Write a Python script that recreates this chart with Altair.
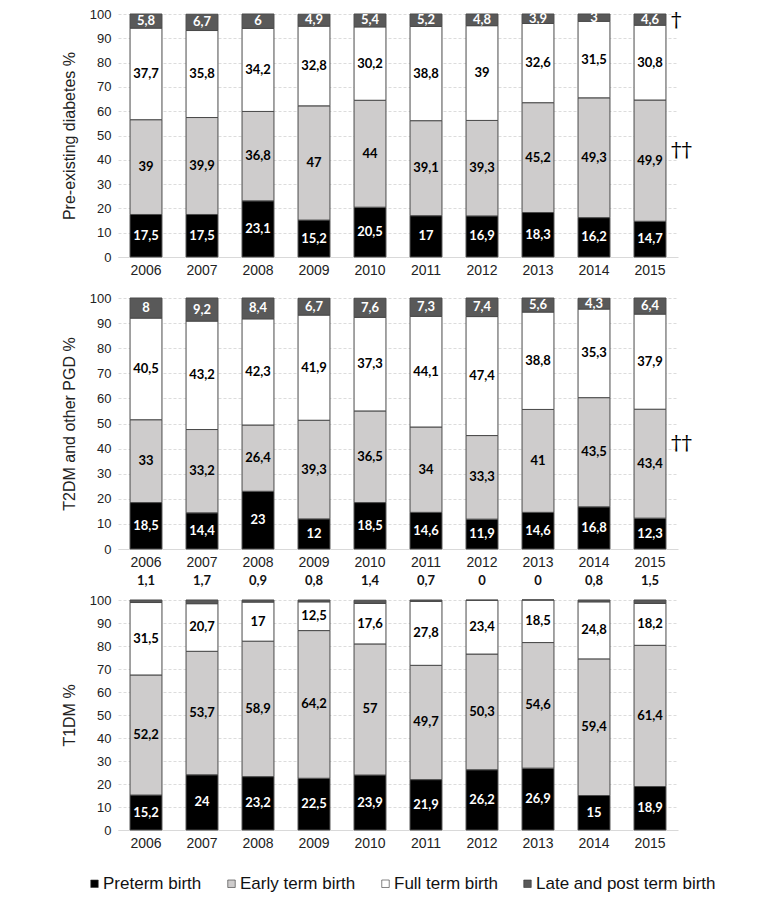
import altair as alt
import pandas as pd

years = [str(y) for y in range(2006, 2016)]
categories = ["Preterm birth", "Early term birth", "Full term birth", "Late and post term birth"]
colors = ["#000000", "#cecccc", "#ffffff", "#595959"]

# Panel 1: Pre-existing diabetes
pre_preterm = [17.5, 17.5, 23.1, 15.2, 20.5, 17, 16.9, 18.3, 16.2, 14.7]
pre_early = [39, 39.9, 36.8, 47, 44, 39.1, 39.3, 45.2, 49.3, 49.9]
pre_full = [37.7, 35.8, 34.2, 32.8, 30.2, 38.8, 39, 32.6, 31.5, 30.8]
pre_late = [5.8, 6.7, 6, 4.9, 5.4, 5.2, 4.8, 3.9, 3, 4.6]

# Panel 2: T2DM and other PGD
t2_preterm = [18.5, 14.4, 23, 12, 18.5, 14.6, 11.9, 14.6, 16.8, 12.3]
t2_early = [33, 33.2, 26.4, 39.3, 36.5, 34, 33.3, 41, 43.5, 43.4]
t2_full = [40.5, 43.2, 42.3, 41.9, 37.3, 44.1, 47.4, 38.8, 35.3, 37.9]
t2_late = [8, 9.2, 8.4, 6.7, 7.6, 7.3, 7.4, 5.6, 4.3, 6.4]

# Panel 3: T1DM
t1_preterm = [15.2, 24, 23.2, 22.5, 23.9, 21.9, 26.2, 26.9, 15, 18.9]
t1_early = [52.2, 53.7, 58.9, 64.2, 57, 49.7, 50.3, 54.6, 59.4, 61.4]
t1_full = [31.5, 20.7, 17, 12.5, 17.6, 27.8, 23.4, 18.5, 24.8, 18.2]
t1_late = [1.1, 1.7, 0.9, 0.8, 1.4, 0.7, 0, 0, 0.8, 1.5]

# Significance markers (symbol, y-level)
pre_marks = [("†", 97.2), ("††", 43.6)]
t2_marks = [("††", 41.8)]

y_ticks = list(range(0, 101, 10))

LABEL_FONT = "Liberation Sans"
VALUE_FONT = "Lato"


def make_df(series):
    rows = []
    for ci, cat in enumerate(categories):
        for yi, yr in enumerate(years):
            v = series[ci][yi]
            rows.append({
                "year": yr, "cat": cat, "order": ci, "value": v,
                "label": f"{v:g}".replace(".", ","),
            })
    return pd.DataFrame(rows)


X_AXIS = alt.Axis(labelAngle=0, labelFontSize=14, labelFont=LABEL_FONT,
                  labelColor="#222", labelPadding=6, ticks=False,
                  domain=True, domainColor="#d9d9d9", grid=False)


def y_axis():
    return alt.Axis(values=y_ticks, labelOverlap=False, labelFontSize=13,
                    labelFont=LABEL_FONT, labelColor="#222", labelPadding=7,
                    ticks=False, domain=False, grid=True, gridColor="#dcdcdc",
                    gridDash=[3, 2], titleFontSize=16, titleFont=LABEL_FONT,
                    titleFontWeight="normal", titleColor="#222", titlePadding=12)


def panel(series, title, height, late_outside, marks):
    df = make_df(series)
    base = alt.Chart(df).transform_stack(
        stack="value", groupby=["year"], as_=["y0", "y1"],
        sort=[alt.SortField("order", order="ascending")],
    ).transform_calculate(
        mid="(datum.y0 + datum.y1) / 2",
        tc="(datum.order == 0 || datum.order == 3) ? 'white' : 'black'",
    )
    x = alt.X("year:N", title=None, sort=years,
              scale=alt.Scale(paddingInner=0.43, paddingOuter=0.215), axis=X_AXIS)
    y_scale = alt.Scale(domain=[0, 100], nice=False, clamp=True)

    def Y(field):
        return alt.Y(field, scale=y_scale, title=title, axis=y_axis())

    bars = base.mark_bar(stroke="#4a4a4a", strokeWidth=1).encode(
        x=x,
        y=Y("y0:Q"),
        y2="y1:Q",
        color=alt.Color("cat:N", sort=categories,
                        scale=alt.Scale(domain=categories, range=colors),
                        legend=alt.Legend(
                            title=None, orient="none", direction="horizontal",
                            legendX=-32, legendY=861,
                            symbolType="square", symbolSize=56,
                            symbolStrokeColor="#333", symbolStrokeWidth=0.6,
                            labelFontSize=17, labelFont=LABEL_FONT, labelLimit=400,
                            labelColor="#111", columnPadding=21,
                            labelOffset=0)),
        order=alt.Order("order:Q"),
    )
    inside_filter = "datum.order < 3" if late_outside else "true"
    texts = base.transform_filter(inside_filter).mark_text(
        font=VALUE_FONT, fontWeight="bold", fontSize=13, baseline="middle"
    ).encode(
        x=x,
        y=Y("mid:Q"),
        text="label:N",
        color=alt.Color("tc:N", scale=None),
    )
    layers = [bars, texts]
    if late_outside:
        top = base.transform_filter("datum.order == 3").mark_text(
            font=VALUE_FONT, fontWeight="bold", fontSize=13, baseline="middle",
            dy=-19, color="#111"
        ).encode(
            x=x,
            y=Y("y1:Q"),
            text="label:N",
        )
        layers.append(top)
    if marks:
        mdf = pd.DataFrame({"year": [years[-1]] * len(marks),
                            "sym": [m[0] for m in marks],
                            "lvl": [m[1] for m in marks]})
        m = alt.Chart(mdf).mark_text(
            font="DejaVu Serif", fontSize=21, align="left", baseline="middle",
            dx=21, color="#000"
        ).encode(
            x=x,
            y=Y("lvl:Q"),
            text="sym:N",
        )
        layers.append(m)
    return alt.layer(*layers).properties(width=560, height=height)


p1 = panel([pre_preterm, pre_early, pre_full, pre_late], "Pre-existing diabetes %", 243, False, pre_marks)
p2 = panel([t2_preterm, t2_early, t2_full, t2_late], "T2DM and other PGD %", 251, False, t2_marks)
p3 = panel([t1_preterm, t1_early, t1_full, t1_late], "T1DM %", 230, True, [])

top_part = alt.vconcat(p1, p2, spacing=15)
chart = alt.vconcat(top_part, p3, spacing=6).properties(
    padding={"left": 53, "top": 0, "right": 5, "bottom": 5}
).configure_view(stroke=None)

chart.save("out.html", embed_options={"renderer": "svg", "actions": False})
